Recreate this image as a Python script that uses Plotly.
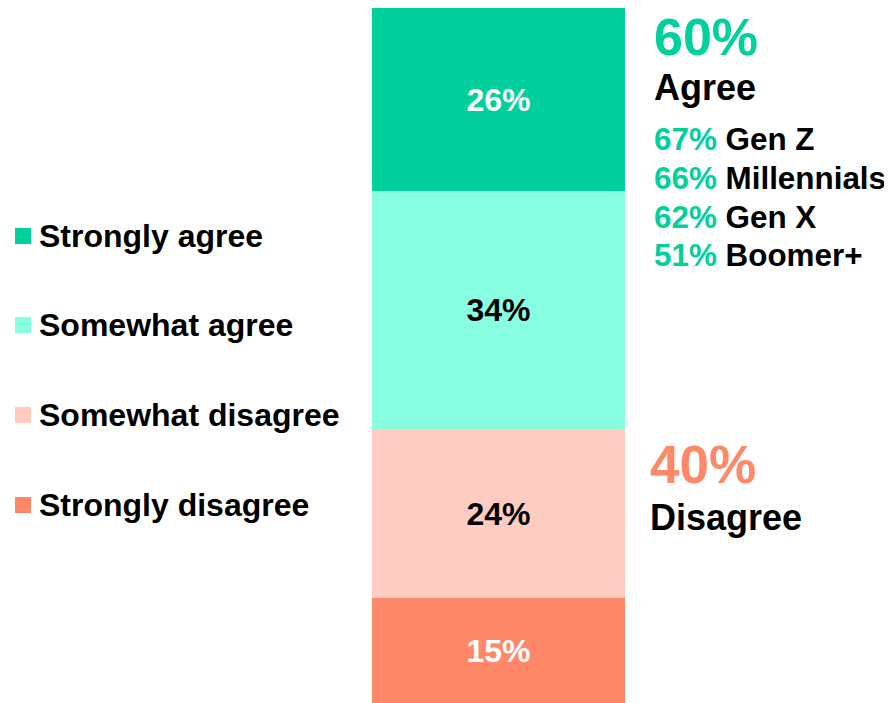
import plotly.graph_objects as go

categories = ["Strongly disagree", "Somewhat disagree", "Somewhat agree", "Strongly agree"]
values = [15, 24, 34, 26]
colors = ["#FF8868", "#FFCCC1", "#88FFE0", "#00D09C"]
label_colors = ["white", "black", "black", "white"]

legend_order = ["Strongly agree", "Somewhat agree", "Somewhat disagree", "Strongly disagree"]

agree_total = 60
disagree_total = 40
generations = ["Gen Z", "Millennials", "Gen X", "Boomer+"]
gen_agree = [67, 66, 62, 51]

OFF = 8  # page body margin
W, H = 892 - OFF, 703 - OFF
L, R, T, B = 372 - OFF, 892 - 625, 0, 0
PW = W - L - R
PH = H - T - B
FONT = "Liberation Sans, Arial, sans-serif"

def px(x):
    return (x - OFF - L) / PW

def py(y):
    return 1 - (y - OFF - T) / PH

fig = go.Figure()
for cat, v, c, lc in zip(categories, values, colors, label_colors):
    fig.add_trace(go.Bar(
        x=[0], y=[v], name=cat, marker=dict(color=c, line=dict(width=0)),
        text=[f"<b>{v}%</b>"], textposition="inside", insidetextanchor="middle",
        textfont=dict(color=lc, size=32, family=FONT), width=1, showlegend=False,
        hoverinfo="skip",
    ))

annotations = []
shapes = []
# legend
leg_y = [236, 325, 415, 505]
for name, yy in zip(legend_order, leg_y):
    c = colors[categories.index(name)]
    shapes.append(dict(type="rect", xref="paper", yref="paper",
                       x0=px(15), x1=px(31), y0=py(yy + 8), y1=py(yy - 8),
                       fillcolor=c, line=dict(width=0)))
    annotations.append(dict(xref="paper", yref="paper", x=px(37), y=py(yy),
                            xanchor="left", yanchor="middle", showarrow=False,
                            text=f"<b>{name}</b>", font=dict(size=32, color="black", family=FONT)))

# right side summaries
annotations.append(dict(xref="paper", yref="paper", x=px(652), y=py(37), xanchor="left", yanchor="middle",
                        showarrow=False, text=f"<b>{agree_total}%</b>",
                        font=dict(size=52, color=colors[3], family=FONT)))
annotations.append(dict(xref="paper", yref="paper", x=px(652), y=py(88), xanchor="left", yanchor="middle",
                        showarrow=False, text="<b>Agree</b>",
                        font=dict(size=36, color="black", family=FONT)))
gen_y = [140, 178, 217, 256]
for g, v, yy in zip(generations, gen_agree, gen_y):
    annotations.append(dict(xref="paper", yref="paper", x=px(652), y=py(yy), xanchor="left", yanchor="middle",
                            showarrow=False,
                            text=f"<b><span style='color:{colors[3]}'>{v}%</span> {g}</b>",
                            font=dict(size=31.4, color="black", family=FONT)))
annotations.append(dict(xref="paper", yref="paper", x=px(648), y=py(465), xanchor="left", yanchor="middle",
                        showarrow=False, text=f"<b>{disagree_total}%</b>",
                        font=dict(size=53, color=colors[0], family=FONT)))
annotations.append(dict(xref="paper", yref="paper", x=px(648), y=py(517), xanchor="left", yanchor="middle",
                        showarrow=False, text="<b>Disagree</b>",
                        font=dict(size=36, color="black", family=FONT)))

fig.update_layout(
    width=W, height=H, barmode="stack", bargap=0,
    margin=dict(l=L, r=R, t=T, b=B, pad=0),
    paper_bgcolor="white", plot_bgcolor="white",
    xaxis=dict(visible=False, range=[-0.5, 0.5]),
    yaxis=dict(visible=False, range=[0, sum(values)]),
    annotations=annotations, shapes=shapes,
    showlegend=False, uniformtext=dict(minsize=8, mode="show"),
)

fig.write_html("out.html")
